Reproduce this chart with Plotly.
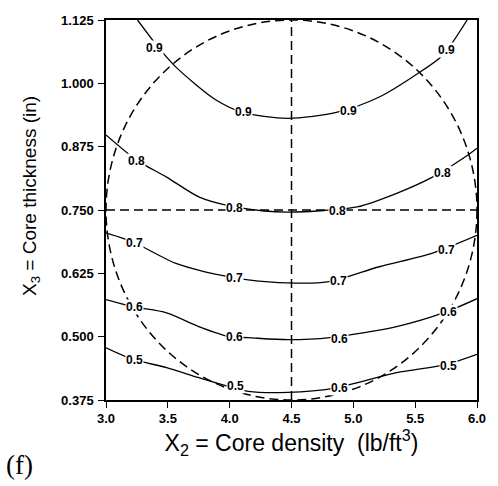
import plotly.graph_objects as go

# Contour lines (x = core density, y = core thickness)
c09_x = [3.255, 3.43, 3.57, 3.89, 4.10, 4.47, 4.87, 5.21, 5.50, 5.72, 5.92]
c09_y = [1.125, 1.069, 1.031, 0.967, 0.943, 0.931, 0.943, 0.973, 1.016, 1.055, 1.125]

c08_x = [3.00, 3.25, 3.49, 3.75, 4.00, 4.28, 4.47, 4.76, 5.03, 5.35, 5.64, 5.90, 6.00]
c08_y = [0.898, 0.848, 0.815, 0.776, 0.758, 0.748, 0.746, 0.749, 0.756, 0.783, 0.815, 0.854, 0.872]

c07_x = [3.00, 3.22, 3.30, 3.56, 3.80, 4.00, 4.15, 4.47, 4.79, 5.21, 5.64, 6.00]
c07_y = [0.705, 0.687, 0.677, 0.645, 0.628, 0.618, 0.612, 0.606, 0.608, 0.638, 0.665, 0.700]

c06_x = [3.00, 3.22, 3.49, 3.75, 4.00, 4.15, 4.47, 4.81, 5.35, 5.75, 6.00]
c06_y = [0.573, 0.559, 0.547, 0.520, 0.500, 0.498, 0.494, 0.498, 0.520, 0.549, 0.575]

c05_x = [3.00, 3.22, 3.49, 3.75, 4.00, 4.15, 4.47, 4.84, 5.35, 5.75, 6.00]
c05_y = [0.478, 0.455, 0.439, 0.419, 0.401, 0.392, 0.390, 0.398, 0.429, 0.445, 0.465]

contours = [(c09_x, c09_y), (c08_x, c08_y), (c07_x, c07_y), (c06_x, c06_y), (c05_x, c05_y)]

# Contour labels: text and location
label_text = ["0.9", "0.9", "0.9", "0.9",
              "0.8", "0.8", "0.8", "0.8",
              "0.7", "0.7", "0.7", "0.7",
              "0.6", "0.6", "0.6", "0.6",
              "0.5", "0.5", "0.6", "0.5"]
label_x = [3.39, 4.11, 4.96, 5.75,
           3.25, 4.04, 4.87, 5.72,
           3.23, 4.04, 4.88, 5.75,
           3.23, 4.04, 4.89, 5.77,
           3.23, 4.05, 4.89, 5.77]
label_y = [1.069, 0.943, 0.945, 1.065,
           0.846, 0.754, 0.748, 0.823,
           0.685, 0.616, 0.610, 0.671,
           0.559, 0.500, 0.496, 0.549,
           0.453, 0.402, 0.399, 0.443]

x_ticks = [3.0, 3.5, 4.0, 4.5, 5.0, 5.5, 6.0]
y_ticks = [0.375, 0.500, 0.625, 0.750, 0.875, 1.000, 1.125]

center_x, center_y = 4.5, 0.75
x_min, x_max = 3.0, 6.0
y_min, y_max = 0.375, 1.125

fig = go.Figure()
for cx, cy in contours:
    fig.add_trace(go.Scatter(x=cx, y=cy, mode="lines",
                             line=dict(color="black", width=1.3, shape="spline", smoothing=0.8),
                             showlegend=False, hoverinfo="skip"))

dash_style = "9px,5px"
# dashed design circle and crosshair
fig.add_shape(type="circle", xref="x", yref="y", x0=x_min, x1=x_max, y0=y_min, y1=y_max,
              line=dict(color="black", width=1.5, dash=dash_style))
fig.add_shape(type="line", xref="x", yref="y", x0=center_x, x1=center_x, y0=y_min, y1=y_max,
              line=dict(color="black", width=1.5, dash=dash_style))
fig.add_shape(type="line", xref="x", yref="y", x0=x_min, x1=x_max, y0=center_y, y1=center_y,
              line=dict(color="black", width=1.5, dash=dash_style))

for t, lx, ly in zip(label_text, label_x, label_y):
    fig.add_annotation(x=lx, y=ly, text=t, showarrow=False, bgcolor="white",
                       font=dict(family="Liberation Sans", size=12, color="black", weight="bold"),
                       borderpad=0)

# y-axis title (placed as rotated text to match reference position)
fig.add_annotation(x=-0.202, y=0.537, xref="paper", yref="paper", xanchor="center", yanchor="middle",
                   text="X<sub>3</sub> = Core thickness (in)", textangle=-90, showarrow=False,
                   font=dict(family="Liberation Sans", size=19, color="black"))

fig.add_annotation(x=-0.276, y=-0.17, xref="paper", yref="paper", xanchor="left", yanchor="middle",
                   text="(f)", showarrow=False,
                   font=dict(family="Liberation Serif", size=27, color="black"))

axis_common = dict(showline=True, linecolor="black", linewidth=1.5, mirror=True,
                   ticks="outside", ticklen=6, tickcolor="black", tickwidth=1.2,
                   showgrid=False, zeroline=False,
                   tickfont=dict(family="Liberation Sans", size=13, color="black", weight="bold"))

fig.update_xaxes(range=[x_min, x_max], tickvals=x_ticks, tickformat=".1f",
                 ticklabelstandoff=0,
                 title=dict(text="X<sub>2</sub> = Core density  (lb/ft<sup>3</sup>)",
                            font=dict(family="Liberation Sans", size=23, color="black"),
                            standoff=5),
                 **axis_common)
fig.update_yaxes(range=[y_min, y_max], tickvals=y_ticks, tickformat=".3f",
                 ticklabelstandoff=2,
                 **axis_common)

fig.update_layout(width=498, height=486, plot_bgcolor="white", paper_bgcolor="white",
                  margin=dict(l=106, r=16, t=20, b=86), showlegend=False)

fig.write_html("out.html")
